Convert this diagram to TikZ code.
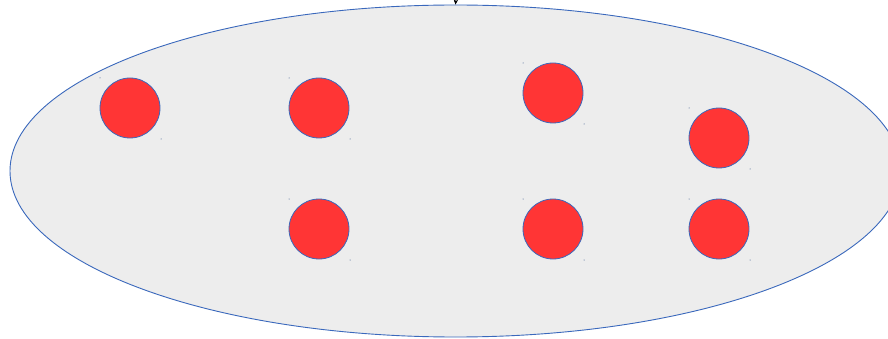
\documentclass[tikz,border=0pt]{standalone}
\usetikzlibrary{arrows.meta,shapes.geometric}
\definecolor{edgeblue}{HTML}{3A68BC}
\definecolor{ballred}{HTML}{FF3535}
\definecolor{setgray}{HTML}{EDEDED}
\begin{document}
\begin{tikzpicture}[x=1pt,y=-1pt,
  ball/.style={circle,draw=edgeblue,fill=ballred,line width=0.8pt,minimum size=60pt,inner sep=0pt},
  speck/.style={fill=edgeblue!70!black,circle,inner sep=0pt,minimum size=1pt}]
\useasboundingbox (0,0) rectangle (888,339);
\clip (0,0) rectangle (888,339);
\node[ellipse,draw=edgeblue,fill=setgray,line width=0.9pt,minimum width=891pt,minimum height=332pt,inner sep=0pt] (set) at (455.5,171) {};
\coordinate (src) at (456,-2);
\draw[-{Stealth[length=5pt,width=4.5pt]},line width=0.6pt] (src) -- (set.north);
\foreach \n/\x/\y in {a/130/108,b/319/108,c/553/93,d/719/138,e/319/229,f/553/229,g/719/229}{
  \node[ball] (\n) at (\x,\y) {};
  \node[speck] at (\x-30,\y-30) {};
  \node[speck] at (\x+31,\y+31) {};
}
\end{tikzpicture}
\end{document}
